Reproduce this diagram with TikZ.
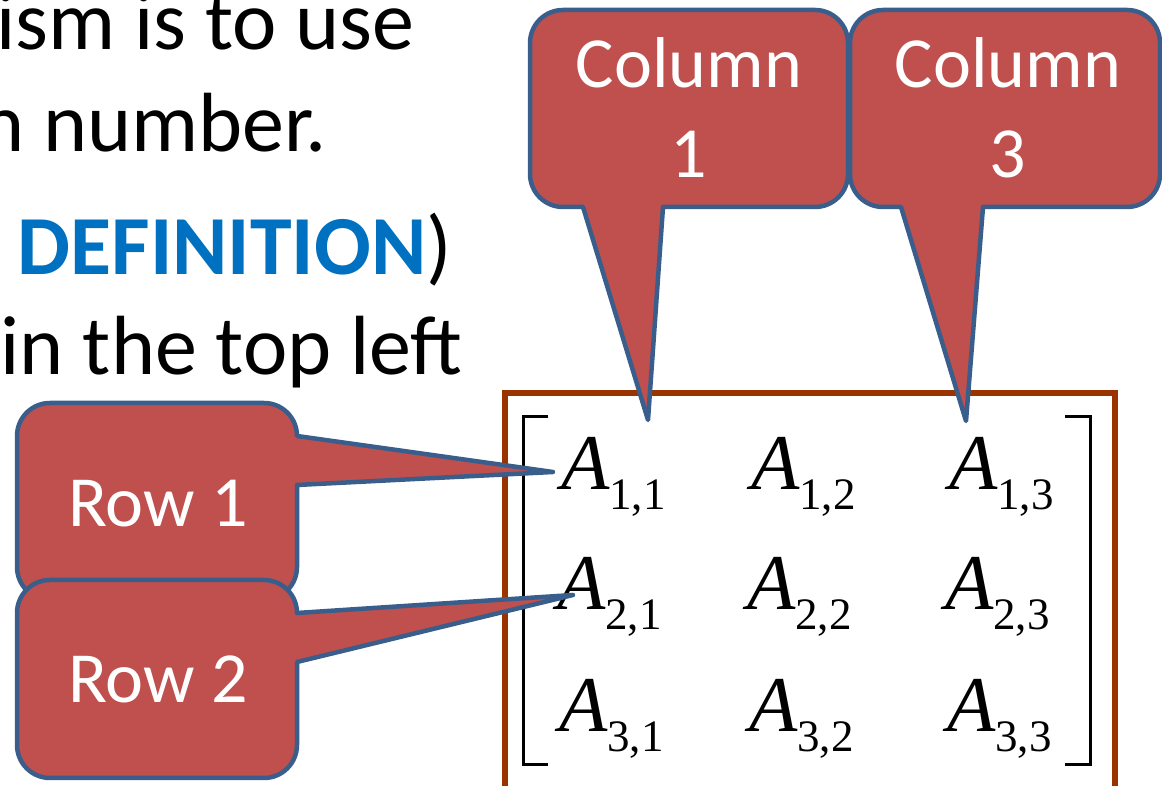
\documentclass[tikz,border=0pt]{standalone}
\usepackage{fontspec}
\setmainfont{Carlito}
\newfontfamily\tms{Liberation Serif}
\definecolor{calfill}{HTML}{C0504D}
\definecolor{caledge}{HTML}{3A5E8C}
\definecolor{framec}{HTML}{993300}
\definecolor{defblue}{HTML}{0070C0}
\tikzset{
  callout/.style={fill=calfill, draw=caledge, line width=4.5pt, line join=round},
  bodytext/.style={inner sep=0pt, anchor=base east, font=\fontsize{84}{90}\selectfont},
  caltext/.style={inner sep=0pt, anchor=base, text=white, font=\fontsize{72}{80}\selectfont},
  entry/.style={inner sep=0pt, anchor=base west},
  bracketline/.style={line width=3pt},
}
\newcommand{\ment}[1]{{\tms\fontsize{79}{80}\selectfont\itshape A}\raisebox{-20pt}{\tms\fontsize{45}{45}\selectfont #1}}
\begin{document}
\begin{tikzpicture}[x=1pt,y=1pt]
\useasboundingbox (0,0) rectangle (1162,786);
% body text
\node[bodytext] (t1) at (415,736) {ism is to use};
\node[bodytext] (t2) at (327,634) {n number.};
\node[bodytext] (t3) at (452,511) {{\bfseries\color{defblue}DEFINITION})};
\node[bodytext] (t4) at (463,411) {in the top left};
% matrix frame
\draw[framec, line width=5.5pt] (505,-4) rectangle (1115,393);
\draw[bracketline] (548,369) -- (523,369) -- (523,21) -- (548,21);
\draw[bracketline] (1065,369) -- (1090,369) -- (1090,21) -- (1065,21);
% entries
\node[entry] (a11) at (561,296) {\ment{1,1}};
\node[entry] (a12) at (751,296) {\ment{1,2}};
\node[entry] (a13) at (949,296) {\ment{1,3}};
\node[entry] (a21) at (557,176) {\ment{2,1}};
\node[entry] (a22) at (747,176) {\ment{2,2}};
\node[entry] (a23) at (945,176) {\ment{2,3}};
\node[entry] (a31) at (559,54) {\ment{3,1}};
\node[entry] (a32) at (749,54) {\ment{3,2}};
\node[entry] (a33) at (947,54) {\ment{3,3}};
% tips
\coordinate (tipc1) at (648,366);
\coordinate (tipc3) at (966,365);
\coordinate (tipr1) at (553,314);
\coordinate (tipr2) at (573,191);
% Column 1 callout
\draw[callout] (583,579) -- (tipc1) -- (663,579) -- (815,579) arc[start angle=270,end angle=360,radius=33]
  -- (848,743) arc[start angle=0,end angle=90,radius=33]
  -- (563,776) arc[start angle=90,end angle=180,radius=33]
  -- (530,612) arc[start angle=180,end angle=270,radius=33] -- cycle;
% Column 3 callout
\draw[callout] (901,579) -- (tipc3) -- (983,579) -- (1127,579) arc[start angle=270,end angle=360,radius=33]
  -- (1160,743) arc[start angle=0,end angle=90,radius=33]
  -- (883,776) arc[start angle=90,end angle=180,radius=33]
  -- (850,612) arc[start angle=180,end angle=270,radius=33] -- cycle;
% Row 1 callout
\draw[callout] (297,350) -- (tipr1) -- (297,301) -- (297,219) arc[start angle=0,end angle=-90,radius=33]
  -- (50,186) arc[start angle=270,end angle=180,radius=33]
  -- (17,350) arc[start angle=180,end angle=90,radius=33]
  -- (264,383) arc[start angle=90,end angle=0,radius=33] -- cycle;
% Row 2 callout
\draw[callout] (297,173) -- (tipr2) -- (297,124) -- (297,41) arc[start angle=0,end angle=-90,radius=33]
  -- (50,8) arc[start angle=270,end angle=180,radius=33]
  -- (17,173) arc[start angle=180,end angle=90,radius=33]
  -- (264,206) arc[start angle=90,end angle=0,radius=33] -- cycle;
% callout texts
\node[caltext] (c1a) at (689,698) {Column};
\node[caltext] (c1b) at (689,608) {1};
\node[caltext] (c3a) at (1008,698) {Column};
\node[caltext] (c3b) at (1008,608) {3};
\node[caltext] (r1) at (158,259) {Row 1};
\node[caltext] (r2) at (158,83) {Row 2};
\end{tikzpicture}
\end{document}
